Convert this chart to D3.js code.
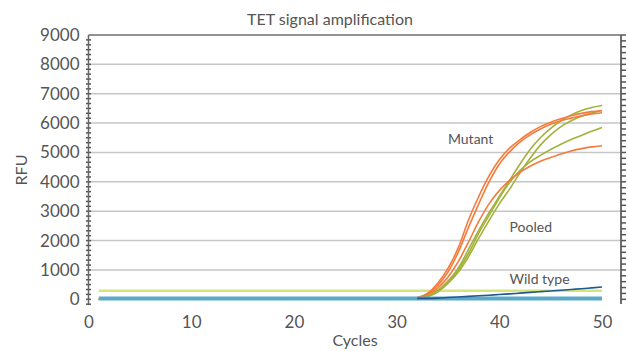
<!DOCTYPE html>
<html>
<head>
<meta charset="utf-8">
<script src="https://cdn.jsdelivr.net/npm/d3@7"></script>
<style>
  body { margin: 0; background: #fff; }
  text { font-family: Lato, "Open Sans", sans-serif; fill: #555; }
</style>
</head>
<body>
<svg id="chart" width="629" height="351"></svg>
<script>
// cycles sampled for the amplification curves
const cycles = [1, 30, 31, 32, 33, 34, 35, 36, 37, 38, 39, 40, 41, 42, 43, 44, 45, 46, 47, 48, 49, 50];

const mutantA = [0, 0, 10, 60, 200, 550, 1050, 1750, 2700, 3500, 4200, 4750, 5150, 5430, 5680, 5880, 6030, 6150, 6250, 6330, 6390, 6430];
const mutantB = [0, 0, 10, 50, 170, 470, 930, 1600, 2450, 3250, 4000, 4600, 5020, 5350, 5600, 5800, 5960, 6080, 6170, 6250, 6310, 6350];
const mutantC = [0, 0, 10, 50, 150, 380, 750, 1280, 1950, 2650, 3250, 3700, 4050, 4320, 4530, 4700, 4830, 4950, 5050, 5130, 5190, 5230];
const pooledA = [0, 0, 5, 30, 110, 300, 620, 1060, 1700, 2350, 2950, 3500, 4050, 4600, 5100, 5500, 5820, 6080, 6280, 6430, 6530, 6600];
const pooledB = [0, 0, 5, 25, 90, 250, 540, 920, 1450, 2080, 2680, 3250, 3750, 4300, 4800, 5250, 5600, 5880, 6080, 6230, 6340, 6430];
const pooledC = [0, 0, 5, 28, 100, 280, 580, 1000, 1560, 2250, 2850, 3450, 3980, 4380, 4680, 4900, 5100, 5280, 5440, 5580, 5720, 5850];

const wildCycles = [32, 33, 34, 35, 36, 37, 38, 39, 40, 41, 42, 43, 44, 45, 46, 47, 48, 49, 50];
const wildType = [30, 30, 40, 60, 80, 100, 120, 140, 165, 185, 210, 235, 260, 285, 310, 335, 360, 390, 420];

const flatCycles = [1, 50];
const thresholdLine = [290, 290];
const blankLine = [30, 30];

const xTicks = [0, 10, 20, 30, 40, 50];
const yTicks = [0, 1000, 2000, 3000, 4000, 5000, 6000, 7000, 8000, 9000];
const gridValues = [1000, 2000, 3000, 4000, 5000, 6000, 7000, 8000];

const labels = [
  { text: "Mutant", cycle: 35, value: 5300 },
  { text: "Pooled", cycle: 41, value: 2300 },
  { text: "Wild type", cycle: 41, value: 520 }
];

const orange = "#f47b3b";
const olive = "#a3b23b";

const svg = d3.select("#chart");

const x = d3.scaleLinear().domain([0, 51.85]).range([88.5, 621]);
const y = d3.scaleLinear().domain([-160, 9000]).range([304, 35]);

const toPoints = (xs, ys) => xs.map((c, i) => [c, ys[i]]);

const line = d3.line()
  .x(d => x(d[0]))
  .y(d => y(d[1]))
  .curve(d3.curveMonotoneX);

// gridlines
svg.append("g")
  .selectAll("line")
  .data(gridValues)
  .join("line")
  .attr("x1", x(0))
  .attr("x2", 621)
  .attr("y1", d => y(d))
  .attr("y2", d => y(d))
  .attr("stroke", "#c6c6c6")
  .attr("stroke-width", 1.5);

// frame: top and right
svg.append("line")
  .attr("x1", x(0)).attr("x2", 621)
  .attr("y1", y(9000)).attr("y2", y(9000))
  .attr("stroke", "#6e6e6e").attr("stroke-width", 1.5);

svg.append("line")
  .attr("x1", 621).attr("x2", 621)
  .attr("y1", y(9000)).attr("y2", 304)
  .attr("stroke", "#6e6e6e").attr("stroke-width", 2);

// right minor ticks
svg.append("g")
  .selectAll("line")
  .data(d3.range(0, 9001, 200))
  .join("line")
  .attr("x1", 621)
  .attr("x2", 626)
  .attr("y1", d => y(d))
  .attr("y2", d => y(d))
  .attr("stroke", "#555")
  .attr("stroke-width", 1.5);

// left axis with dense ticks crossing it
const yAxis = svg.append("g")
  .attr("transform", `translate(${x(0)},0)`)
  .call(d3.axisLeft(y).tickValues(yTicks).tickSize(0).tickPadding(9).tickFormat(d3.format("d")));

yAxis.select(".domain").remove();
yAxis.selectAll("text")
  .attr("font-size", 17)
  .attr("fill", "#555")
  .style("font-family", "Lato, sans-serif");

svg.append("g")
  .selectAll("line")
  .data(d3.range(-1000 / 6, 9000, 1000 / 6))
  .join("line")
  .attr("x1", x(0) - 2.5)
  .attr("x2", x(0) + 2.5)
  .attr("y1", d => y(d))
  .attr("y2", d => y(d))
  .attr("stroke", "#555")
  .attr("stroke-width", 1.5);

svg.append("line")
  .attr("x1", x(0)).attr("x2", x(0))
  .attr("y1", y(9000)).attr("y2", 304)
  .attr("stroke", "#666").attr("stroke-width", 1.5);

// bottom axis
const xAxis = svg.append("g")
  .attr("transform", "translate(0,304)")
  .call(d3.axisBottom(x).tickValues(xTicks).tickSize(0).tickPadding(12));

xAxis.select(".domain").remove();
xAxis.selectAll("text")
  .attr("font-size", 17)
  .attr("fill", "#555")
  .style("font-family", "Lato, sans-serif");

// series
svg.append("path")
  .datum(toPoints(flatCycles, thresholdLine))
  .attr("d", line)
  .attr("fill", "none")
  .attr("stroke", "#d6e47c")
  .attr("stroke-width", 2.5);

const curves = [
  { values: pooledC, color: olive },
  { values: pooledB, color: olive },
  { values: pooledA, color: olive },
  { values: mutantC, color: orange },
  { values: mutantB, color: orange },
  { values: mutantA, color: orange }
];

svg.append("g")
  .selectAll("path")
  .data(curves)
  .join("path")
  .attr("d", d => line(toPoints(cycles, d.values)))
  .attr("fill", "none")
  .attr("stroke", d => d.color)
  .attr("stroke-width", 1.6);

svg.append("path")
  .datum(toPoints(flatCycles, blankLine))
  .attr("d", line)
  .attr("fill", "none")
  .attr("stroke", "#5ba9c7")
  .attr("stroke-width", 4);

svg.append("path")
  .datum(toPoints(wildCycles, wildType))
  .attr("d", line)
  .attr("fill", "none")
  .attr("stroke", "#1f5b8d")
  .attr("stroke-width", 1.6);

// series labels
svg.append("g")
  .selectAll("text")
  .data(labels)
  .join("text")
  .attr("x", d => x(d.cycle))
  .attr("y", d => y(d.value))
  .attr("font-size", 14)
  .text(d => d.text);

// titles
svg.append("text")
  .attr("x", 330)
  .attr("y", 25)
  .attr("text-anchor", "middle")
  .attr("font-size", 16)
  .text("TET signal amplification");

svg.append("text")
  .attr("x", 355)
  .attr("y", 346)
  .attr("text-anchor", "middle")
  .attr("font-size", 16)
  .text("Cycles");

svg.append("text")
  .attr("transform", "translate(27,170) rotate(-90)")
  .attr("text-anchor", "middle")
  .attr("font-size", 16)
  .text("RFU");
</script>
</body>
</html>
